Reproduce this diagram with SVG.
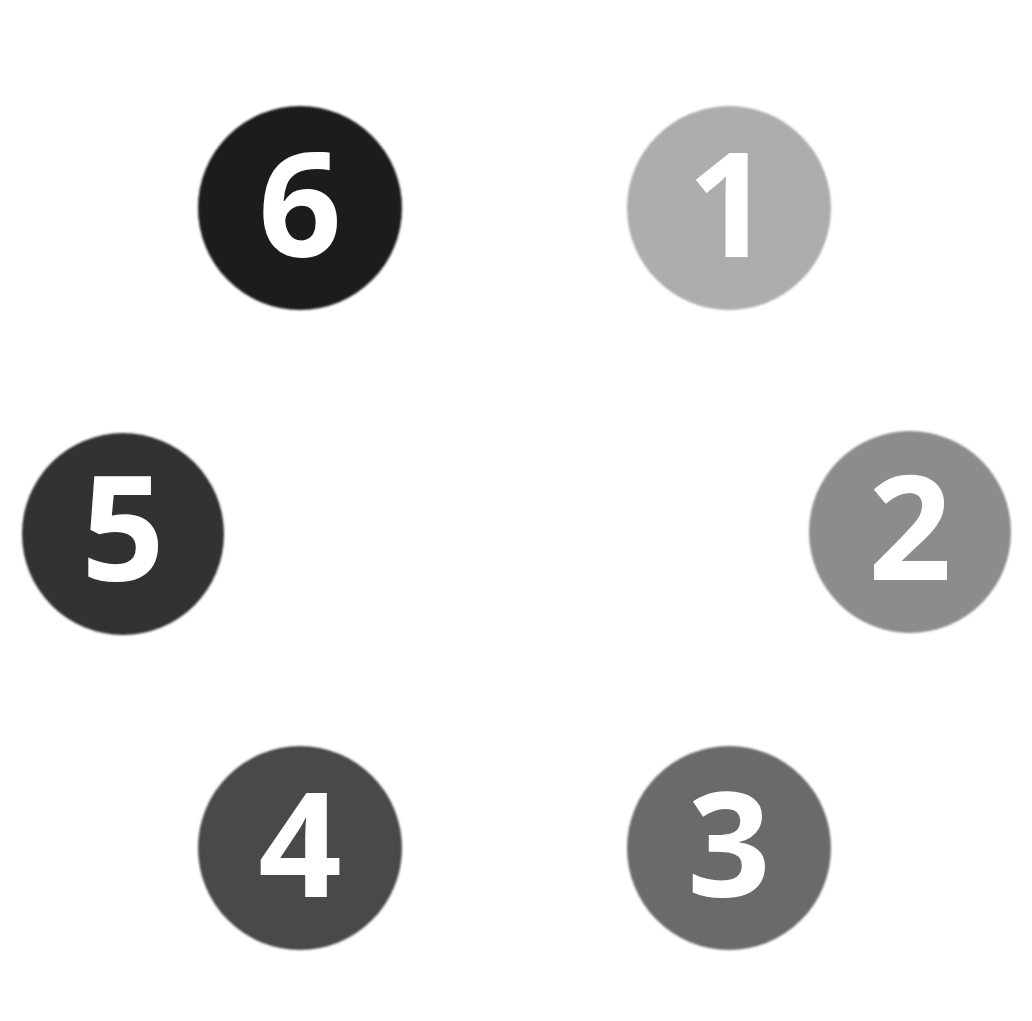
<svg xmlns="http://www.w3.org/2000/svg" width="1032" height="1021" viewBox="0 0 1032 1021">
<style>
.lbl{font-family:"Open Sans","Liberation Sans",sans-serif;font-weight:700;font-size:146px;fill:#ffffff;text-anchor:middle}
</style>
<defs>
<filter id="soft" x="-10%" y="-10%" width="120%" height="120%"><feGaussianBlur stdDeviation="1.2"/></filter>
</defs>
<rect width="1032" height="1021" fill="#ffffff"/>
<g id="connectors"></g>
<g id="node6"><circle cx="300" cy="208" r="102" fill="#1a1a1a" filter="url(#soft)"/><text class="lbl" x="300" y="257">6</text></g>
<g id="node1"><circle cx="729" cy="208" r="102" fill="#adadad" filter="url(#soft)"/><text class="lbl" x="729" y="257">1</text></g>
<g id="node2"><circle cx="910" cy="532" r="101" fill="#8c8c8c" filter="url(#soft)"/><text class="lbl" x="910" y="580">2</text></g>
<g id="node5"><circle cx="123" cy="534" r="101" fill="#333333" filter="url(#soft)"/><text class="lbl" x="123" y="581">5</text></g>
<g id="node4"><circle cx="300" cy="848" r="102" fill="#4a4a4a" filter="url(#soft)"/><text class="lbl" x="300" y="897">4</text></g>
<g id="node3"><circle cx="729" cy="848" r="102" fill="#6b6b6b" filter="url(#soft)"/><text class="lbl" x="729" y="897">3</text></g>
</svg>
